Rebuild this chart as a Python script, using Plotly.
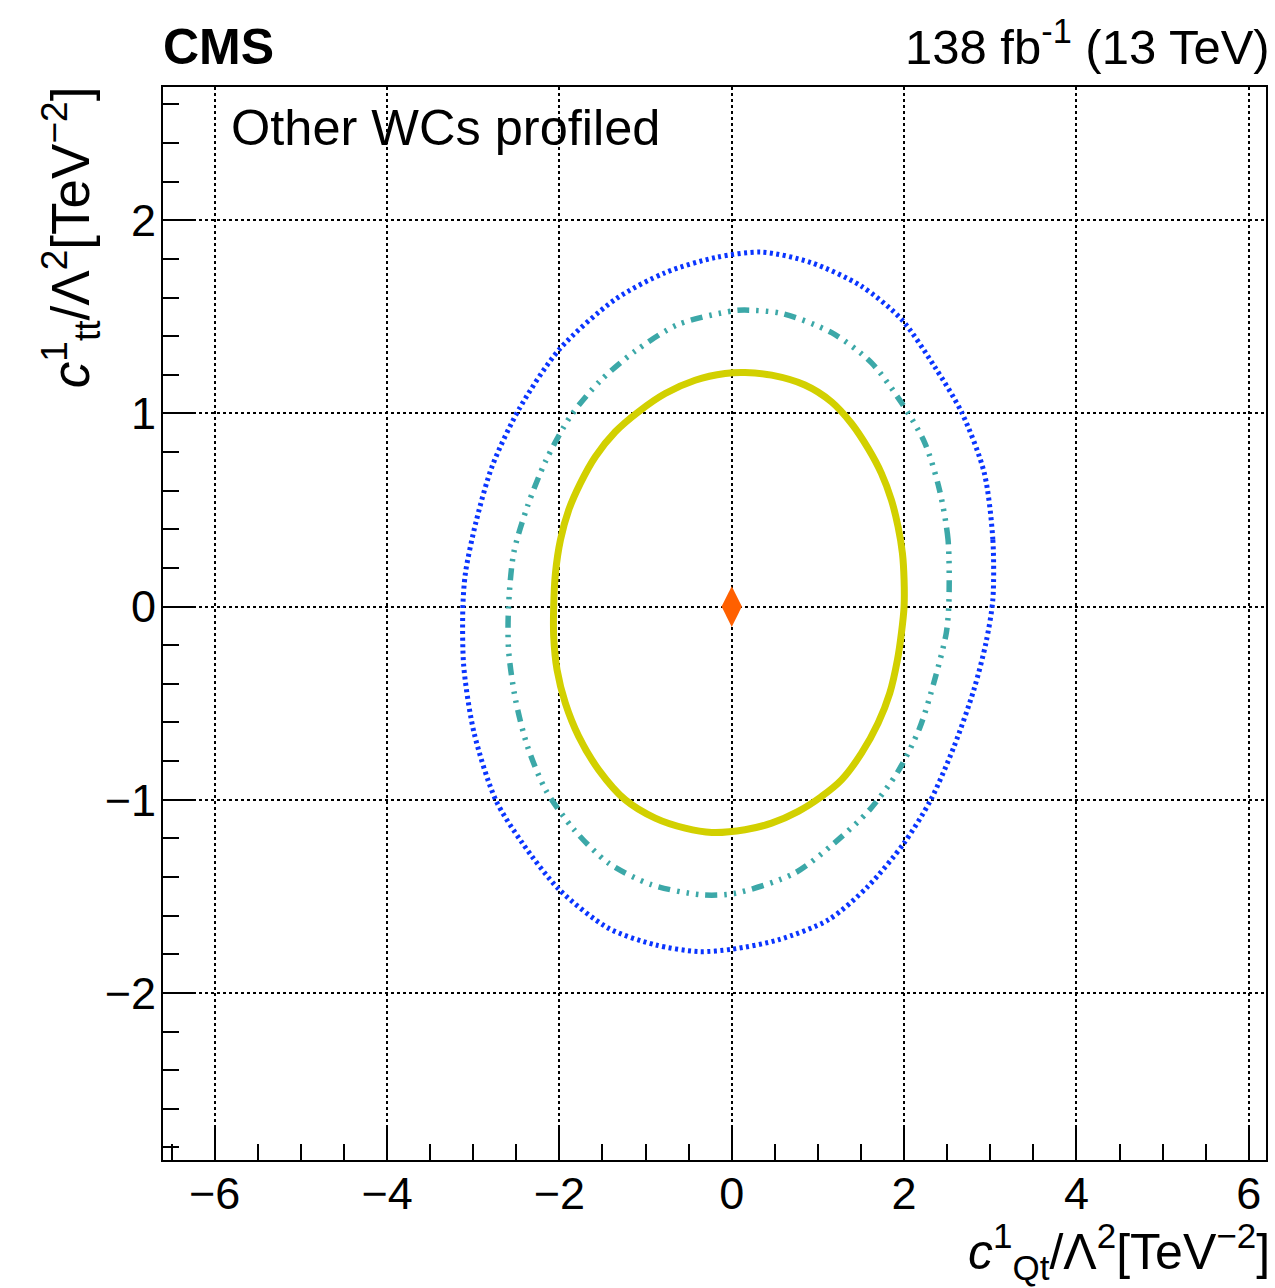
import plotly.graph_objects as go

# ---- data ----
cl68_x = [2.00, 1.969, 1.923, 1.834, 1.699, 1.506, 1.274, 1.042, 0.772, 0.463, 0.154, -0.232, -0.541,
          -0.888, -1.236, -1.544, -1.776, -1.931, -2.027, -2.066, -2.066, -2.046, -1.988, -1.892, -1.757,
          -1.583, -1.351, -1.081, -0.772, -0.425, -0.077, 0.154, 0.463, 0.849, 1.158, 1.39, 1.583, 1.737,
          1.853, 1.93, 1.981, 2.00, 2.00]
cl68_y = [0.0, -0.138, -0.276, -0.448, -0.603, -0.759, -0.897, -0.983, -1.06, -1.121, -1.155, -1.169,
          -1.147, -1.095, -1.0, -0.845, -0.672, -0.5, -0.328, -0.155, 0.0, 0.172, 0.345, 0.5, 0.638,
          0.776, 0.905, 1.009, 1.103, 1.172, 1.207, 1.212, 1.198, 1.147, 1.06, 0.948, 0.819, 0.69,
          0.552, 0.414, 0.276, 0.138, 0.0]

cl95_x = [2.52, 2.51, 2.41, 2.24, 1.97, 1.62, 1.16, 0.58, 0.15, 0.0, -0.62, -1.12, -1.53, -1.87, -2.16,
          -2.37, -2.53, -2.59, -2.59, -2.51, -2.37, -2.16, -1.83, -1.43, -0.93, -0.35, 0.04, 0.73, 1.19,
          1.60, 1.93, 2.18, 2.35, 2.49, 2.52]
cl95_y = [0.02, 0.347, 0.606, 0.848, 1.055, 1.263, 1.418, 1.518, 1.535, 1.530, 1.461, 1.323, 1.167, 0.986,
          0.753, 0.52, 0.278, 0.0, -0.223, -0.48, -0.724, -0.948, -1.155, -1.328, -1.44, -1.492, -1.484,
          -1.38, -1.224, -1.052, -0.853, -0.629, -0.387, -0.136, 0.02]

cl997_x = [3.03, 3.03, 2.93, 2.67, 2.35, 1.97, 1.50, 0.92, 0.35, -0.19, -0.77, -1.35, -2.0, -2.47, -2.78,
           -2.97, -3.09, -3.12, -3.11, -2.99, -2.74, -2.43, -2.0, -1.43, -0.89, -0.39, 0.0, 0.54, 1.12,
           1.58, 2.0, 2.31, 2.58, 2.81, 2.95, 3.03]
cl997_y = [0.036, 0.347, 0.693, 1.004, 1.245, 1.487, 1.66, 1.781, 1.835, 1.807, 1.729, 1.591, 1.332, 1.021,
           0.727, 0.434, 0.175, 0.0, -0.309, -0.654, -1.0, -1.224, -1.466, -1.665, -1.751, -1.786, -1.774,
           -1.725, -1.622, -1.449, -1.224, -1.0, -0.724, -0.43, -0.188, 0.036]

best_fit_x = [0.0]
best_fit_y = [0.0]

x_tickvals = [-6, -4, -2, 0, 2, 4, 6]
y_tickvals = [-2, -1, 0, 1, 2]

FONT = "Liberation Sans"

fig = go.Figure()
fig.add_trace(go.Scatter(x=cl997_x, y=cl997_y, mode="lines",
                         line=dict(color="#0a35ff", width=5, dash="3px,3.5px", shape="spline", smoothing=0.8),
                         showlegend=False, hoverinfo="skip"))
fig.add_trace(go.Scatter(x=cl95_x, y=cl95_y, mode="lines",
                         line=dict(color="#3ca8a8", width=5.5,
                                   dash="12px,7px,2.5px,7px,2.5px,7px,2.5px,7px",
                                   shape="spline", smoothing=0.8),
                         showlegend=False, hoverinfo="skip"))
fig.add_trace(go.Scatter(x=cl68_x, y=cl68_y, mode="lines",
                         line=dict(color="#d2d000", width=7, shape="spline", smoothing=1.0),
                         showlegend=False, hoverinfo="skip"))
fig.add_trace(go.Scatter(x=best_fit_x, y=best_fit_y, mode="markers",
                         marker=dict(symbol="diamond-tall", size=29, color="#ff6000",
                                     line=dict(width=0)),
                         showlegend=False, hoverinfo="skip"))

axis_common = dict(
    showline=True, linecolor="black", linewidth=2, mirror=True,
    ticks="inside", tickcolor="black", tickwidth=2,
    showgrid=True, gridcolor="black", gridwidth=1.5, griddash="dot",
    zeroline=False,
    tickfont=dict(family=FONT, size=45, color="black"),
)

fig.update_xaxes(range=[-6.6, 6.2], tickvals=x_tickvals, ticklen=33, ticklabelstandoff=-7,
                 minor=dict(ticks="inside", ticklen=16, dtick=0.5, tickcolor="black", tickwidth=2,
                            showgrid=False),
                 **axis_common)
fig.update_yaxes(range=[-2.865, 2.69], tickvals=y_tickvals, ticklen=33, ticklabelstandoff=-4,
                 minor=dict(ticks="inside", ticklen=16, dtick=0.2, tickcolor="black", tickwidth=2,
                            showgrid=False),
                 **axis_common)

annotations = [
    dict(text="<b>CMS</b>", x=-0.002, y=1.0373, xref="paper", yref="paper", xanchor="left", yanchor="middle",
         showarrow=False, font=dict(family=FONT, size=50, color="black")),
    dict(text="138 fb<sup>-1</sup> (13 TeV)", x=1.005, y=1.041, xref="paper", yref="paper",
         xanchor="right", yanchor="middle", showarrow=False,
         font=dict(family=FONT, size=49, color="black")),
    dict(text="Other WCs profiled", x=0.060, y=0.9618, xref="paper", yref="paper",
         xanchor="left", yanchor="middle", showarrow=False,
         font=dict(family=FONT, size=50.5, color="black")),
    dict(text="<i>c</i><sup>1</sup><sub>Qt</sub>/Λ<sup>2</sup>[TeV<sup>−2</sup>]", x=1.005, y=-0.0855,
         xref="paper", yref="paper", xanchor="right", yanchor="middle", showarrow=False,
         font=dict(family=FONT, size=50, color="black")),
    dict(text="<i>c</i><sup>1</sup><sub>tt</sub>/Λ<sup>2</sup>[TeV<sup>−2</sup>]", x=-0.084, y=1.003,
         xref="paper", yref="paper", xanchor="center", yanchor="top", textangle=-90, showarrow=False,
         font=dict(family=FONT, size=53, color="black")),
]

fig.update_layout(
    width=1275, height=1288,
    margin=dict(l=163, r=7, t=87, b=128, pad=0),
    paper_bgcolor="white", plot_bgcolor="white",
    annotations=annotations,
    showlegend=False,
)

fig.write_html("out.html")
